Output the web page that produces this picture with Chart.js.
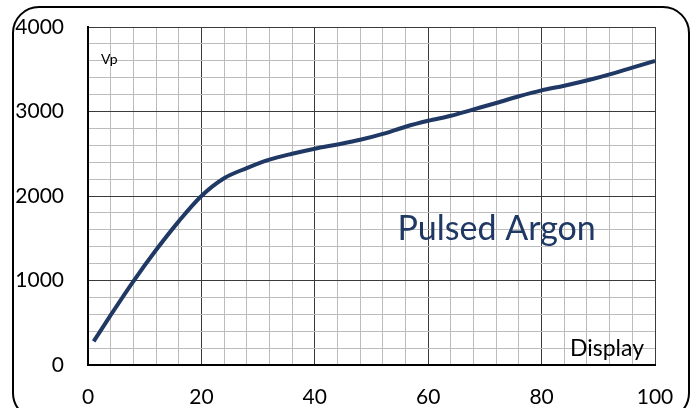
<!DOCTYPE html>
<html>
<head>
<meta charset="utf-8">
<script src="https://cdn.jsdelivr.net/npm/chart.js@4"></script>
<style>
  html, body { margin: 0; padding: 0; background: #fff; }
  #wrap { width: 691px; height: 408px; }
</style>
</head>
<body>
<div id="wrap"><canvas id="c" width="691" height="408"></canvas></div>
<script>
// Display setting vs. Vp (Pulsed Argon)
const displayVals = [1, 4, 8, 12, 16, 20, 24, 28, 32, 36, 40, 44, 48, 52, 56, 60, 64, 68, 72, 76, 80, 84, 89, 92, 96, 100];
const vpVals = [280, 590, 990, 1360, 1700, 2000, 2210, 2330, 2430, 2500, 2560, 2610, 2665, 2735, 2820, 2890, 2950, 3025, 3100, 3180, 3250, 3305, 3385, 3440, 3520, 3600];

const seriesLabel = "Pulsed Argon";
const xAxisLabel = "Display";
const yAxisLabel = "Vp";

const FONT = "Lato, 'Open Sans', sans-serif";

const points = displayVals.map((x, i) => ({ x: x, y: vpVals[i] }));

// rounded frame round the whole chart plus the text labels inside the plot
const decorations = {
  id: "decorations",
  beforeDraw(chart) {
    const ctx = chart.ctx;
    ctx.save();
    ctx.fillStyle = "#fff";
    ctx.fillRect(0, 0, chart.width, chart.height);
    ctx.restore();
  },
  afterDraw(chart) {
    const ctx = chart.ctx;
    const xs = chart.scales.x;
    const ys = chart.scales.y;

    ctx.save();
    ctx.strokeStyle = "#000";
    ctx.lineWidth = 2;
    ctx.beginPath();
    ctx.roundRect(13, 7, 676, 412, 26);
    ctx.stroke();

    ctx.textBaseline = "middle";
    ctx.textAlign = "left";

    ctx.fillStyle = "#000";
    ctx.font = "14px " + FONT;
    ctx.fillText(yAxisLabel, xs.getPixelForValue(2.3), ys.getPixelForValue(3610));

    ctx.font = "23px " + FONT;
    ctx.fillText(xAxisLabel, xs.getPixelForValue(85), ys.getPixelForValue(190));

    ctx.fillStyle = "#203864";
    ctx.font = "34px " + FONT;
    ctx.fillText(seriesLabel, xs.getPixelForValue(54.6), ys.getPixelForValue(1610));
    ctx.restore();
  }
};

new Chart(document.getElementById("c"), {
  type: "line",
  data: {
    datasets: [
      {
        label: seriesLabel,
        data: points,
        borderColor: "#203864",
        borderWidth: 4,
        pointRadius: 0,
        cubicInterpolationMode: "monotone",
        fill: false,
      },
    ],
  },
  options: {
    responsive: false,
    animation: false,
    layout: { padding: { left: 0, right: 36, top: 27, bottom: 0 } },
    plugins: {
      legend: { display: false },
      tooltip: { enabled: false },
    },
    scales: {
      x: {
        type: "linear",
        min: 0,
        max: 100,
        afterFit: (s) => {
          s.height = 43;
          s.paddingLeft = 0;
          s.paddingRight = 0;
        },
        border: { color: "#000", width: 2 },
        grid: {
          drawTicks: false,
          color: (c) => (c.tick.value % 20 === 0 ? "#3a3a3a" : "#bcbcbc"),
          lineWidth: 1,
        },
        ticks: {
          stepSize: 4,
          autoSkip: false,
          maxRotation: 0,
          padding: 20,
          color: "#000",
          font: { family: FONT, size: 21 },
          callback: (v) => (v % 20 === 0 ? v : ""),
        },
      },
      y: {
        min: 0,
        max: 4000,
        afterFit: (s) => {
          s.width = 88;
          s.paddingTop = 0;
          s.paddingBottom = 0;
        },
        border: { color: "#000", width: 2 },
        grid: {
          drawTicks: false,
          color: (c) => (c.tick.value % 1000 === 0 ? "#3a3a3a" : "#bcbcbc"),
          lineWidth: 1,
        },
        ticks: {
          stepSize: 200,
          autoSkip: false,
          padding: 24,
          color: "#000",
          font: { family: FONT, size: 21 },
          callback: (v) => (v % 1000 === 0 ? v : ""),
        },
      },
    },
  },
  plugins: [decorations],
});
</script>
</body>
</html>
